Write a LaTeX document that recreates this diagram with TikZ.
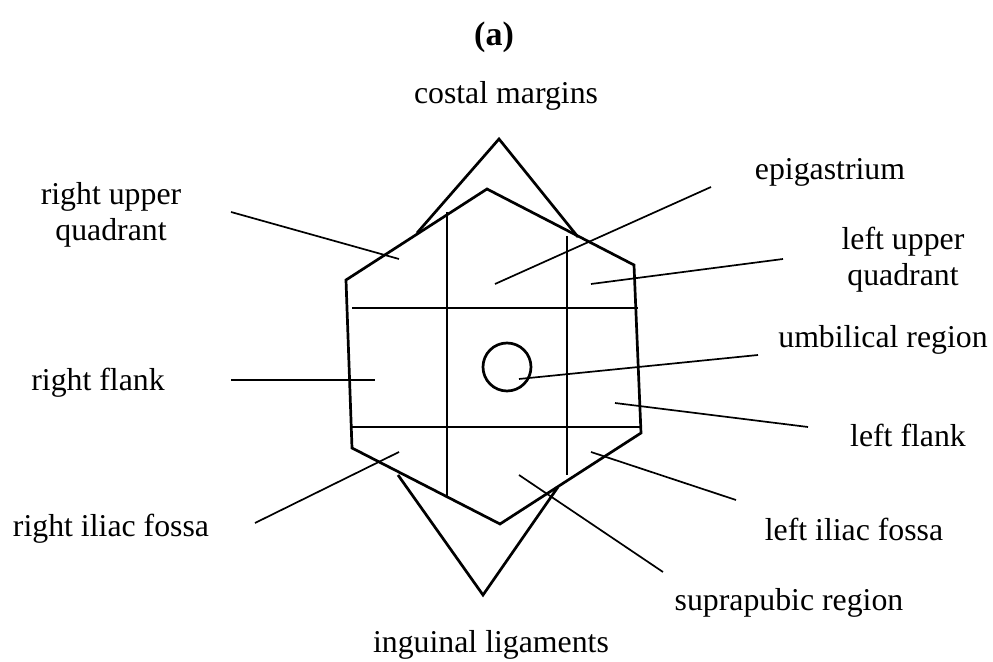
\documentclass[tikz,border=0pt]{standalone}
\usepackage{fontspec}
\setmainfont{Liberation Serif}
\begin{document}
\begin{tikzpicture}[x=0.5pt,y=-0.5pt,
  outline/.style={line width=1.35pt, line join=miter},
  leader/.style={line width=0.85pt},
  lbl/.style={inner sep=0pt, align=center, font=\fontsize{15.9}{18}\selectfont}]
\useasboundingbox (0,0) rectangle (993,662);
% hexagon
\coordinate (T) at (487,189);
\coordinate (UR) at (634,265);
\coordinate (LR) at (641,433);
\coordinate (B) at (500,524);
\coordinate (LL) at (352,448);
\coordinate (UL) at (346,280);
\draw[outline] (T) -- (UR) -- (LR) -- (B) -- (LL) -- (UL) -- cycle;
% costal margins triangle
\coordinate (ca) at (499,139);
\coordinate (cl) at (417,233);
\coordinate (cr) at (578,237);
\draw[outline] (cl) -- (ca) -- (cr);
% inguinal ligaments triangle
\coordinate (il) at (398,475);
\coordinate (ib) at (483,595);
\coordinate (ir) at (558,487);
\draw[outline] (il) -- (ib) -- (ir);
% grid lines
\coordinate (h1a) at (352,308); \coordinate (h1b) at (638,308);
\coordinate (h2a) at (352,427); \coordinate (h2b) at (640,427);
\coordinate (v1a) at (447,212); \coordinate (v1b) at (447,498);
\coordinate (v2a) at (567,236); \coordinate (v2b) at (567,475);
\draw[outline] (h1a) -- (h1b);
\draw[outline] (h2a) -- (h2b);
\draw[outline] (v1a) -- (v1b);
\draw[outline] (v2a) -- (v2b);
% umbilicus
\node[circle, draw, line width=1.35pt, minimum size=24, inner sep=0pt] (umb) at (507,367) {};
% labels
\node[lbl, font=\fontsize{17}{20}\selectfont\bfseries] (ta) at (494,37) {(a)};
\node[lbl] (costal) at (506,96) {costal margins};
\node[lbl] (epi) at (830,172) {epigastrium};
\node[lbl] (luq) at (903,260) {left upper\\quadrant};
\node[lbl] (ruq) at (111,215) {right upper\\quadrant};
\node[lbl] (rflank) at (98,383) {right flank};
\node[lbl] (rif) at (111,529) {right iliac fossa};
\node[lbl] (umbl) at (883,340) {umbilical region};
\node[lbl] (lflank) at (908,435) {left flank};
\node[lbl] (lif) at (854,529) {left iliac fossa};
\node[lbl] (supra) at (789,603) {suprapubic region};
\node[lbl] (ing) at (491,645) {inguinal ligaments};
% leader lines
\coordinate (a1) at (231,212); \coordinate (b1) at (399,259);
\coordinate (a2) at (711,187); \coordinate (b2) at (495,284);
\coordinate (a3) at (783,259); \coordinate (b3) at (591,284);
\coordinate (a4) at (231,380); \coordinate (b4) at (375,380);
\coordinate (a5) at (758,355); \coordinate (b5) at (519,379);
\coordinate (a6) at (808,427); \coordinate (b6) at (615,403);
\coordinate (a7) at (255,523); \coordinate (b7) at (399,452);
\coordinate (a8) at (736,500); \coordinate (b8) at (591,452);
\coordinate (a9) at (663,572); \coordinate (b9) at (519,475);
\draw[leader] (a1) -- (b1);
\draw[leader] (a2) -- (b2);
\draw[leader] (a3) -- (b3);
\draw[leader] (a4) -- (b4);
\draw[leader] (a5) -- (b5);
\draw[leader] (a6) -- (b6);
\draw[leader] (a7) -- (b7);
\draw[leader] (a8) -- (b8);
\draw[leader] (a9) -- (b9);
\end{tikzpicture}
\end{document}
